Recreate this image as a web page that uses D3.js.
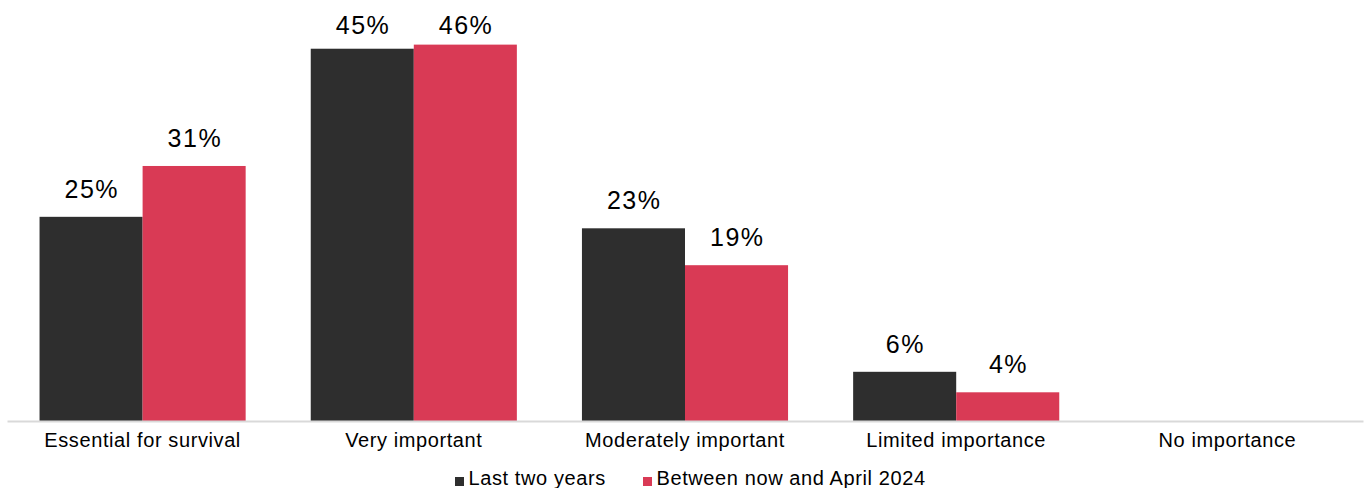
<!DOCTYPE html>
<html>
<head>
<meta charset="utf-8">
<script src="https://cdn.jsdelivr.net/npm/d3@7"></script>
<style>
  html, body { margin: 0; padding: 0; background: #fff; }
  svg text { font-family: "Liberation Sans", Arial, Helvetica, sans-serif; fill: #000; }
</style>
</head>
<body>
<svg id="chart" width="1370" height="488"></svg>
<script>
const categories = ["Essential for survival", "Very important", "Moderately important", "Limited importance", "No importance"];
const seriesNames = ["Last two years", "Between now and April 2024"];
const lastTwoYears = [24.9, 45.4, 23.5, 6.0, 0];
const nowToApril2024 = [31.1, 45.9, 19.0, 3.5, 0];
const lastTwoYearsLabels = ["25%", "45%", "23%", "6%", ""];
const nowToApril2024Labels = ["31%", "46%", "19%", "4%", ""];
const colors = ["#2e2e2e", "#d93a55"];

const svg = d3.select("#chart");
const left = 7, right = 1363, baseY = 421;

const x0 = d3.scaleBand().domain(categories).range([left, right]).paddingInner(0.24).paddingOuter(0.12);
const x1 = d3.scaleBand().domain(seriesNames).range([0, x0.bandwidth()]);
const y = d3.scaleLinear().domain([0, 50]).range([baseY, baseY - 410]);

const rows = categories.map((c, i) => ({
  cat: c,
  vals: [
    { s: seriesNames[0], v: lastTwoYears[i], lab: lastTwoYearsLabels[i], col: colors[0] },
    { s: seriesNames[1], v: nowToApril2024[i], lab: nowToApril2024Labels[i], col: colors[1] }
  ]
}));

const g = svg.selectAll("g.grp").data(rows).join("g")
  .attr("class", "grp")
  .attr("transform", d => `translate(${x0(d.cat)},0)`);

g.selectAll("rect").data(d => d.vals.filter(v => v.v > 0)).join("rect")
  .attr("x", d => x1(d.s))
  .attr("width", x1.bandwidth())
  .attr("y", d => y(d.v))
  .attr("height", d => y(0) - y(d.v))
  .attr("fill", d => d.col);

g.selectAll("text.val").data(d => d.vals.filter(v => v.lab)).join("text")
  .attr("class", "val")
  .attr("x", d => x1(d.s) + x1.bandwidth() / 2 + 0.75)
  .attr("y", d => Math.max(y(d.v) - 19, 34))
  .attr("text-anchor", "middle")
  .style("font-size", "25px")
  .style("letter-spacing", "1.5px")
  .text(d => d.lab);

// axis
const axis = d3.axisBottom(x0).tickSize(0).tickPadding(12);
const ax = svg.append("g").attr("transform", `translate(0,${baseY})`).call(axis);
ax.select(".domain").attr("stroke", "#d9d9d9").attr("stroke-width", 2);
ax.selectAll(".tick text")
  .style("font-size", "20px")
  .style("letter-spacing", "0.6px")
  .attr("fill", "#000")
  .attr("dy", "0.71em");

// legend
const legendItems = [
  { name: seriesNames[0], col: colors[0], x: 455 },
  { name: seriesNames[1], col: colors[1], x: 643 }
];
const lg = svg.append("g");
lg.selectAll("rect").data(legendItems).join("rect")
  .attr("x", d => d.x).attr("y", 477).attr("width", 9).attr("height", 9).attr("fill", d => d.col);
lg.selectAll("text").data(legendItems).join("text")
  .attr("x", d => d.x + 13.5).attr("y", 485)
  .style("font-size", "20px")
  .style("letter-spacing", "0.6px")
  .text(d => d.name);
</script>
</body>
</html>
